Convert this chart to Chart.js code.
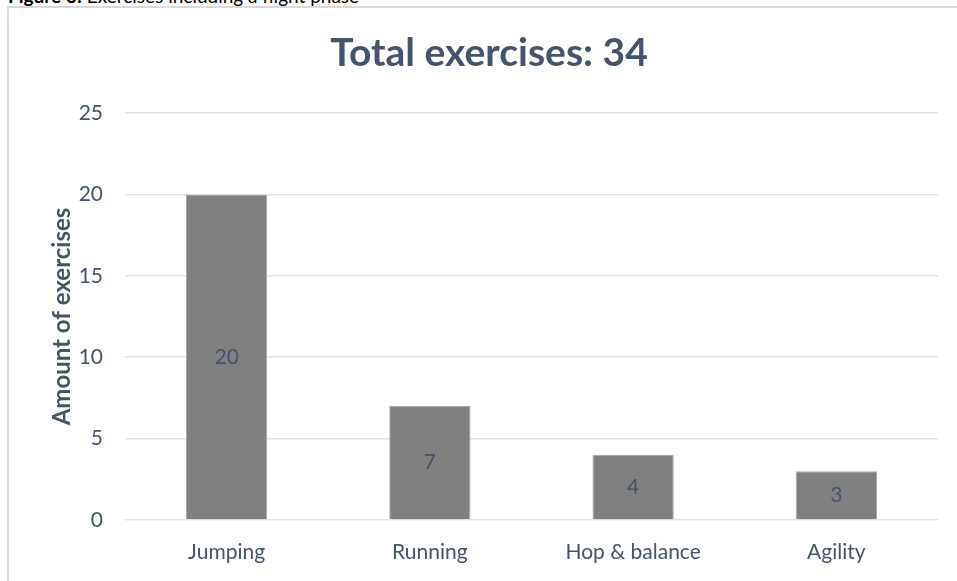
<!DOCTYPE html>
<html>
<head>
<meta charset="utf-8">
<script src="https://cdn.jsdelivr.net/npm/chart.js@4.4.1/dist/chart.umd.min.js"></script>
<style>
  html, body { margin: 0; padding: 0; background: #fff; overflow: hidden; }
  #wrap { position: relative; width: 957px; height: 581px; }
  #caption {
    position: absolute; left: 8px; top: -16px;
    font-family: Lato, "Open Sans", sans-serif; font-size: 19px; color: #000;
    white-space: nowrap;
  }
  #frame {
    position: absolute; left: 7px; top: 6px; right: 0; bottom: 0;
    border-left: 2px solid #D9D9D9; border-top: 2px solid #D9D9D9;
  }
  canvas { position: absolute; left: 0; top: 0; }
</style>
</head>
<body>
<div id="wrap">
  <div id="caption"><b>Figure 3:</b> Exercises including a flight phase</div>
  <div id="frame"></div>
  <canvas id="chart" width="957" height="581"></canvas>
</div>
<script>
/* ================== DATA ================== */
const categories = ['Jumping', 'Running', 'Hop & balance', 'Agility'];
const exerciseCounts = [20, 7, 4, 3];
const yTicks = [0, 5, 10, 15, 20, 25];
const chartTitle = 'Total exercises: 34';

const TEXT = '#44546A';
const FONT = 'Lato, "Open Sans", sans-serif';

/* ================== TITLE + VALUE LABELS ================== */
const barLabels = {
  id: 'barLabels',
  afterDatasetsDraw(chart) {
    const ctx = chart.ctx;
    const meta = chart.getDatasetMeta(0);
    ctx.save();
    ctx.font = '21px ' + FONT;
    ctx.fillStyle = TEXT;
    ctx.textAlign = 'center';
    ctx.textBaseline = 'middle';
    meta.data.forEach((bar, i) => {
      const { x, y, base } = bar.getProps(['x', 'y', 'base'], true);
      ctx.fillText(String(exerciseCounts[i]), x, (y + base) / 2);
    });

    // title sits over the whole figure box, not the plot
    ctx.font = 'bold 39px ' + FONT;
    ctx.fillText(chartTitle, 489, 53);
    ctx.restore();
  }
};

new Chart(document.getElementById('chart').getContext('2d'), {
  type: 'bar',
  data: {
    labels: categories,
    datasets: [{
      data: exerciseCounts,
      backgroundColor: '#808080',
      borderColor: '#A8A8A8',
      borderWidth: 1,
      categoryPercentage: 1,
      barPercentage: 0.4
    }]
  },
  options: {
    responsive: false,
    animation: false,
    devicePixelRatio: 1,
    layout: { padding: { left: 7, right: 19, top: 113, bottom: 0 } },
    plugins: {
      legend: { display: false },
      tooltip: { enabled: false },
      title: { display: false }
    },
    scales: {
      x: {
        grid: { display: false },
        border: { display: false },
        ticks: { color: TEXT, font: { family: FONT, size: 21 }, padding: 12 },
        afterFit(scale) { scale.height = 61; }
      },
      y: {
        min: 0,
        max: 25,
        afterBuildTicks(scale) { scale.ticks = yTicks.map(v => ({ value: v })); },
        grid: { color: '#E1E4EA', lineWidth: 1.5, drawTicks: false },
        border: { display: false },
        ticks: { color: TEXT, font: { family: FONT, size: 21 }, padding: 22 },
        title: {
          display: true,
          text: 'Amount of exercises',
          color: TEXT,
          font: { family: FONT, size: 24, weight: 'bold' },
          padding: { top: 41, bottom: 0 }
        },
        afterFit(scale) { scale.width = 118; }
      }
    }
  },
  plugins: [barLabels]
});
</script>
</body>
</html>
